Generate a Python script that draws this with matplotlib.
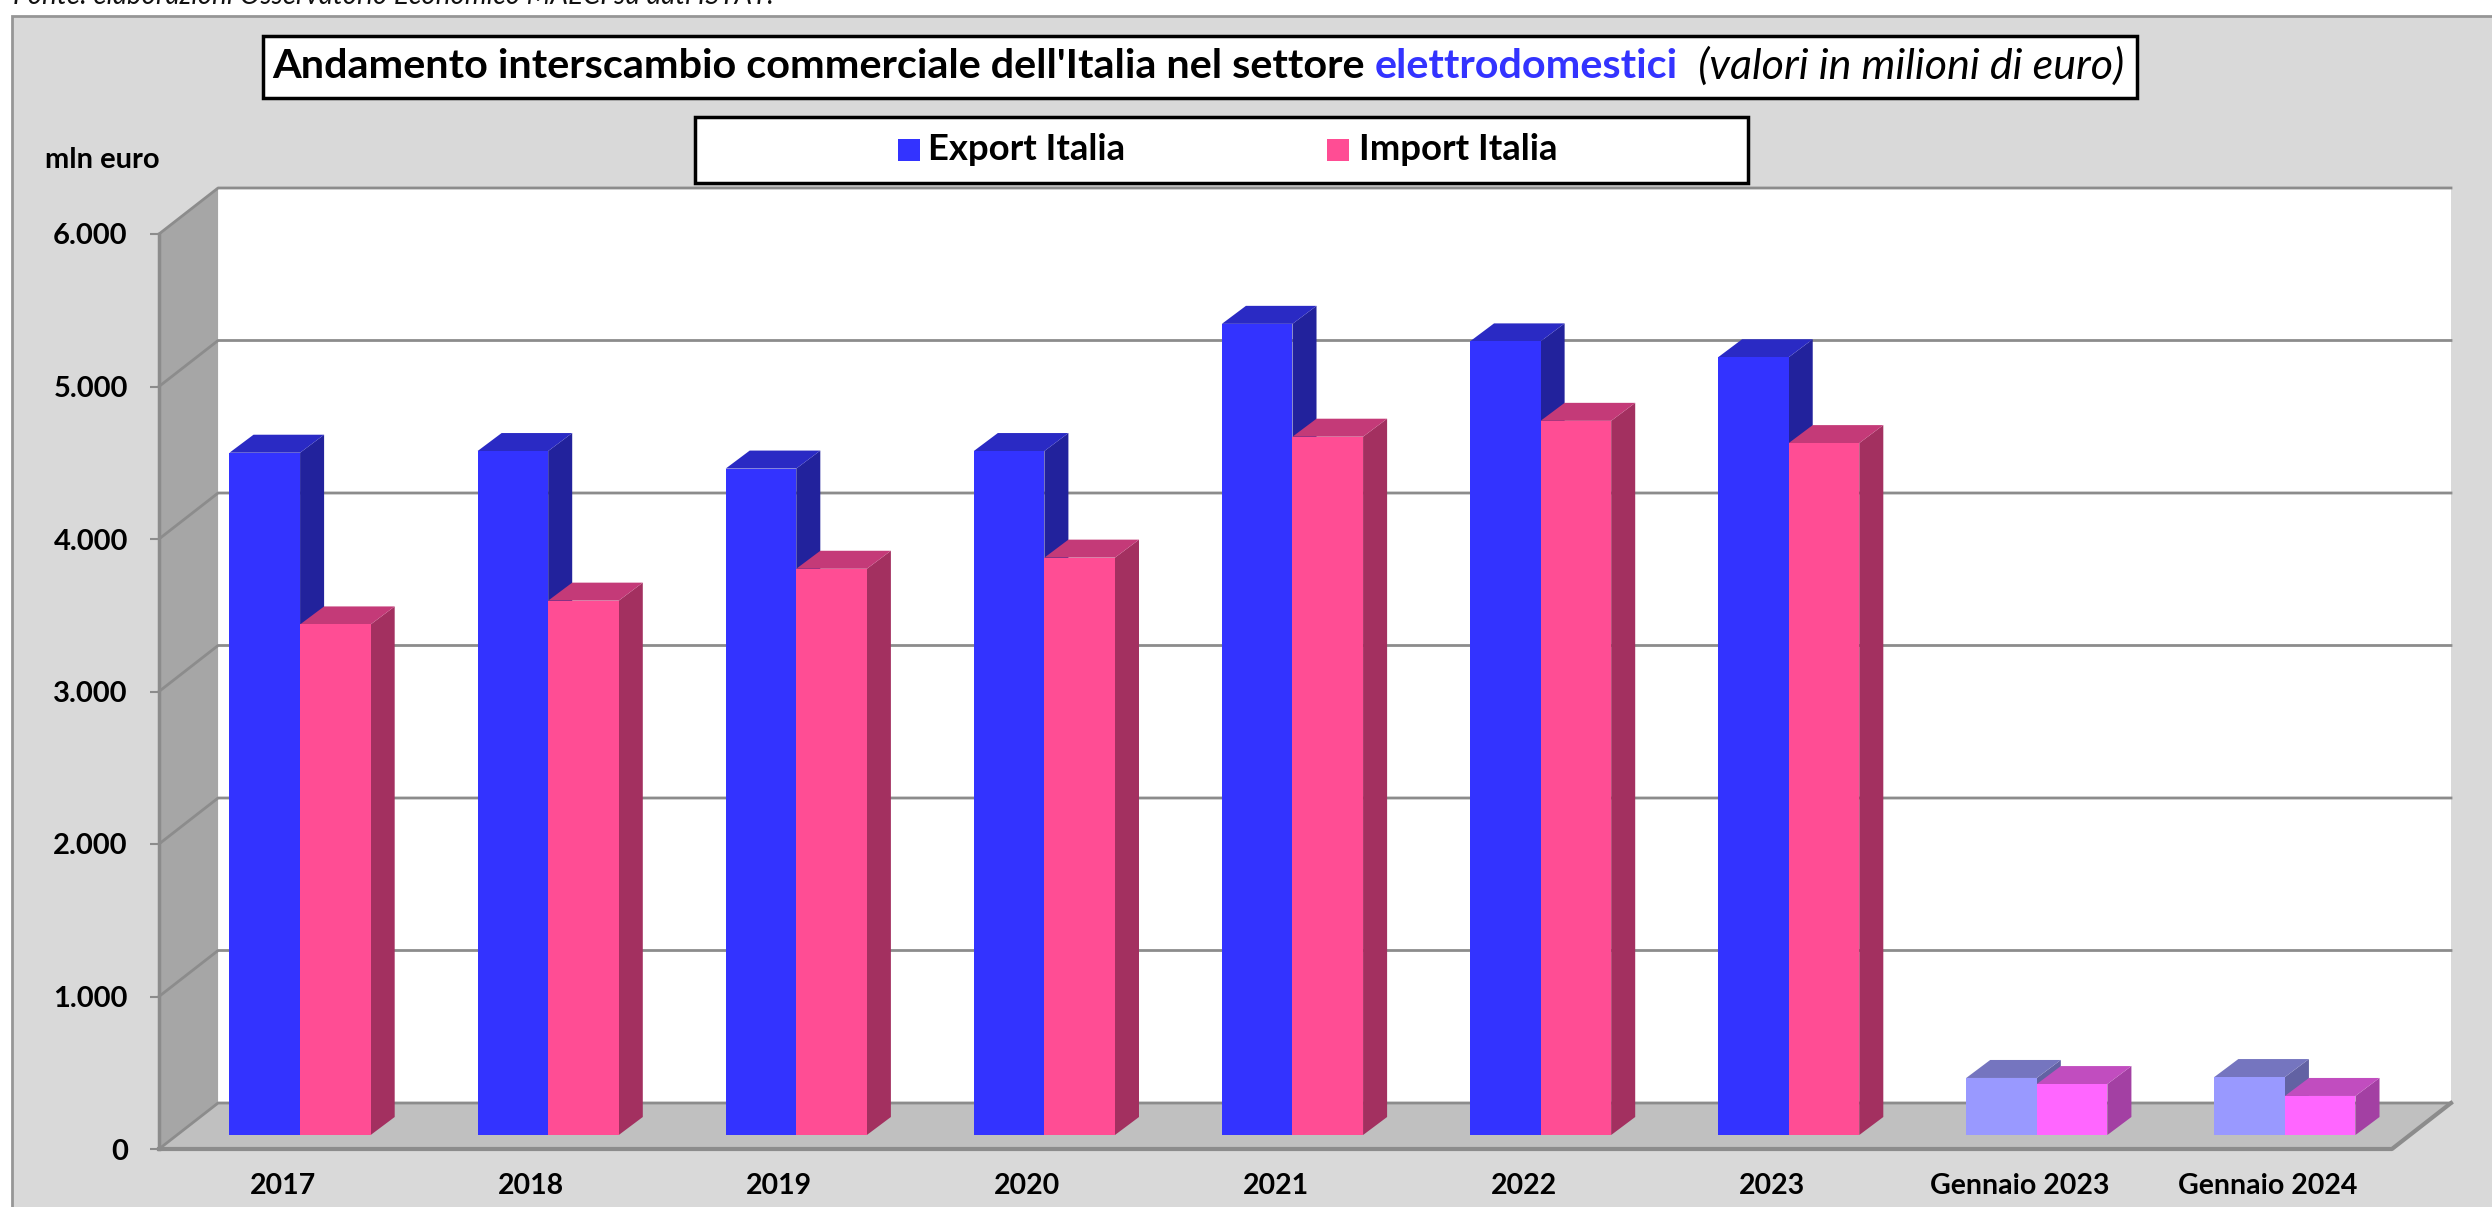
import matplotlib
matplotlib.use("Agg")
import matplotlib.pyplot as plt
from matplotlib.patches import Rectangle
from matplotlib.ticker import FuncFormatter

categories = ['2017', '2018', '2019', '2020', '2021', '2022', '2023', 'Gennaio 2023', 'Gennaio 2024']
export_italia = [4474, 4485, 4370, 4485, 5319, 5204, 5100, 374, 380]
import_italia = [3348, 3504, 3713, 3786, 4579, 4683, 4537, 334, 256]
yticks = [0, 1000, 2000, 3000, 4000, 5000, 6000]

# colori: fronte, sopra, lato
c_exp = ('#3333FF', '#2A2AC4', '#22229C')
c_imp = ('#FF4D94', '#C43A78', '#A33060')
c_exp_m = ('#9999FF', '#7575BF', '#6262A3')
c_imp_m = ('#FF66FF', '#C14DBF', '#A340A3')

W, H = 2492, 1207
plt.rcParams['font.family'] = 'Lato'
fig = plt.figure(figsize=(W / 100, H / 100), dpi=100, facecolor='white')

# sfondo in coordinate pixel
bg = fig.add_axes([0, 0, 1, 1])
bg.set_xlim(0, W)
bg.set_ylim(H, 0)
bg.axis('off')
bg.add_patch(Rectangle((12, 16), W, H, fc='#D9D9D9', ec='#969696', lw=2))
bg.text(13, 4, 'Fonte: elaborazioni Osservatorio Economico MAECI su dati ISTAT.',
        fontsize=20, style='italic', va='baseline', color='#111111')
bg.text(45, 160, 'mln euro', fontsize=21, fontweight='bold', va='center')

# titolo
bg.add_patch(Rectangle((263, 36), 1874, 62, fc='white', ec='black', lw=2.5))
t1 = bg.text(272, 67, "Andamento interscambio commerciale dell'Italia nel settore ",
             fontsize=29.8, fontweight='bold', va='center')
t2 = bg.annotate('elettrodomestici', xy=(1, 0), xycoords=t1, va='bottom',
                 fontsize=29.8, fontweight='bold', color='#3333FF')
t3 = bg.annotate('  (valori in milioni di euro)', xy=(1, 0), xycoords=t2, va='bottom',
                 fontsize=31, style='italic')

# legenda
bg.add_patch(Rectangle((695, 117), 1053, 66, fc='white', ec='black', lw=2.5))
bg.add_patch(Rectangle((898, 139), 22, 22, fc=c_exp[0], ec='none'))
bg.text(928, 150, 'Export Italia', fontsize=26.3, fontweight='bold', va='center')
bg.add_patch(Rectangle((1327, 139), 22, 22, fc=c_imp[0], ec='none'))
bg.text(1359, 150, 'Import Italia', fontsize=26.3, fontweight='bold', va='center')

# assi del grafico: x in categorie, y in milioni di euro
px_cat = 247.8
px_val = 152.5 / 1000
dx = 59 / px_cat
dy = 46 / px_val
left, right = -0.5, len(categories) - 0.5
ax = fig.add_axes([159 / W, 1 - 1149 / H, (2451 - 159) / W, (1149 - 188) / H])
ax.patch.set_alpha(0)
ax.set_xlim(left, right + dx)
ax.set_ylim(0, 6000 + dy)
for s in ax.spines.values():
    s.set_visible(False)

grid_c = '#8C8C8C'
# pareti e pavimento
ax.fill([left + dx, right + dx, right + dx, left + dx], [dy, dy, 6000 + dy, 6000 + dy], color='white', lw=0)
ax.fill([left, left + dx, left + dx, left], [0, dy, 6000 + dy, 6000], color='#A6A6A6', lw=0)
ax.fill([left, right, right + dx, left + dx], [0, 0, dy, dy], color='#C0C0C0', lw=0)
for v in yticks:
    ax.plot([left, left + dx, right + dx], [v, v + dy, v + dy], color=grid_c, lw=2, clip_on=False, zorder=1)
ax.plot([left, left], [0, 6000], color=grid_c, lw=2.5, clip_on=False, zorder=1)
ax.plot([left, right, right + dx], [0, 0, dy], color=grid_c, lw=3, clip_on=False, zorder=1)

# barre
bw = 70.5 / px_cat
off = 17 / px_cat
lift = 14 / px_val
dep_x = 24 / px_cat
dep_y = 18 / px_val


def bar3d(i, x0, val, cols, z):
    x1 = x0 + bw
    top = lift + val
    ax.fill([x1, x1 + dep_x, x1 + dep_x, x1], [lift, lift + dep_y, top + dep_y, top], color=cols[2], lw=0, zorder=z)
    ax.fill([x0, x1, x1 + dep_x, x0 + dep_x], [top, top, top + dep_y, top + dep_y], color=cols[1], lw=0, zorder=z)
    ax.bar(x0, val, bw, bottom=lift, align='edge', color=cols[0], lw=0, zorder=4)


for i in range(len(categories)):
    recent = i >= 7
    bar3d(i, i + off - bw, export_italia[i], c_exp_m if recent else c_exp, 2.5)
    bar3d(i, i + off, import_italia[i], c_imp_m if recent else c_imp, 3)

ax.set_xticks(range(len(categories)), categories)
ax.set_yticks(yticks)
ax.yaxis.set_major_formatter(FuncFormatter(lambda v, p: f'{int(v):,}'.replace(',', '.')))
ax.tick_params(axis='x', length=0, pad=17.5, labelsize=20.5)
ax.tick_params(axis='y', length=6.5, width=1.5, color=grid_c, pad=16, labelsize=21)
for lab in ax.get_xticklabels() + ax.get_yticklabels():
    lab.set_fontweight('bold')

fig.savefig('out.png', dpi=100)
